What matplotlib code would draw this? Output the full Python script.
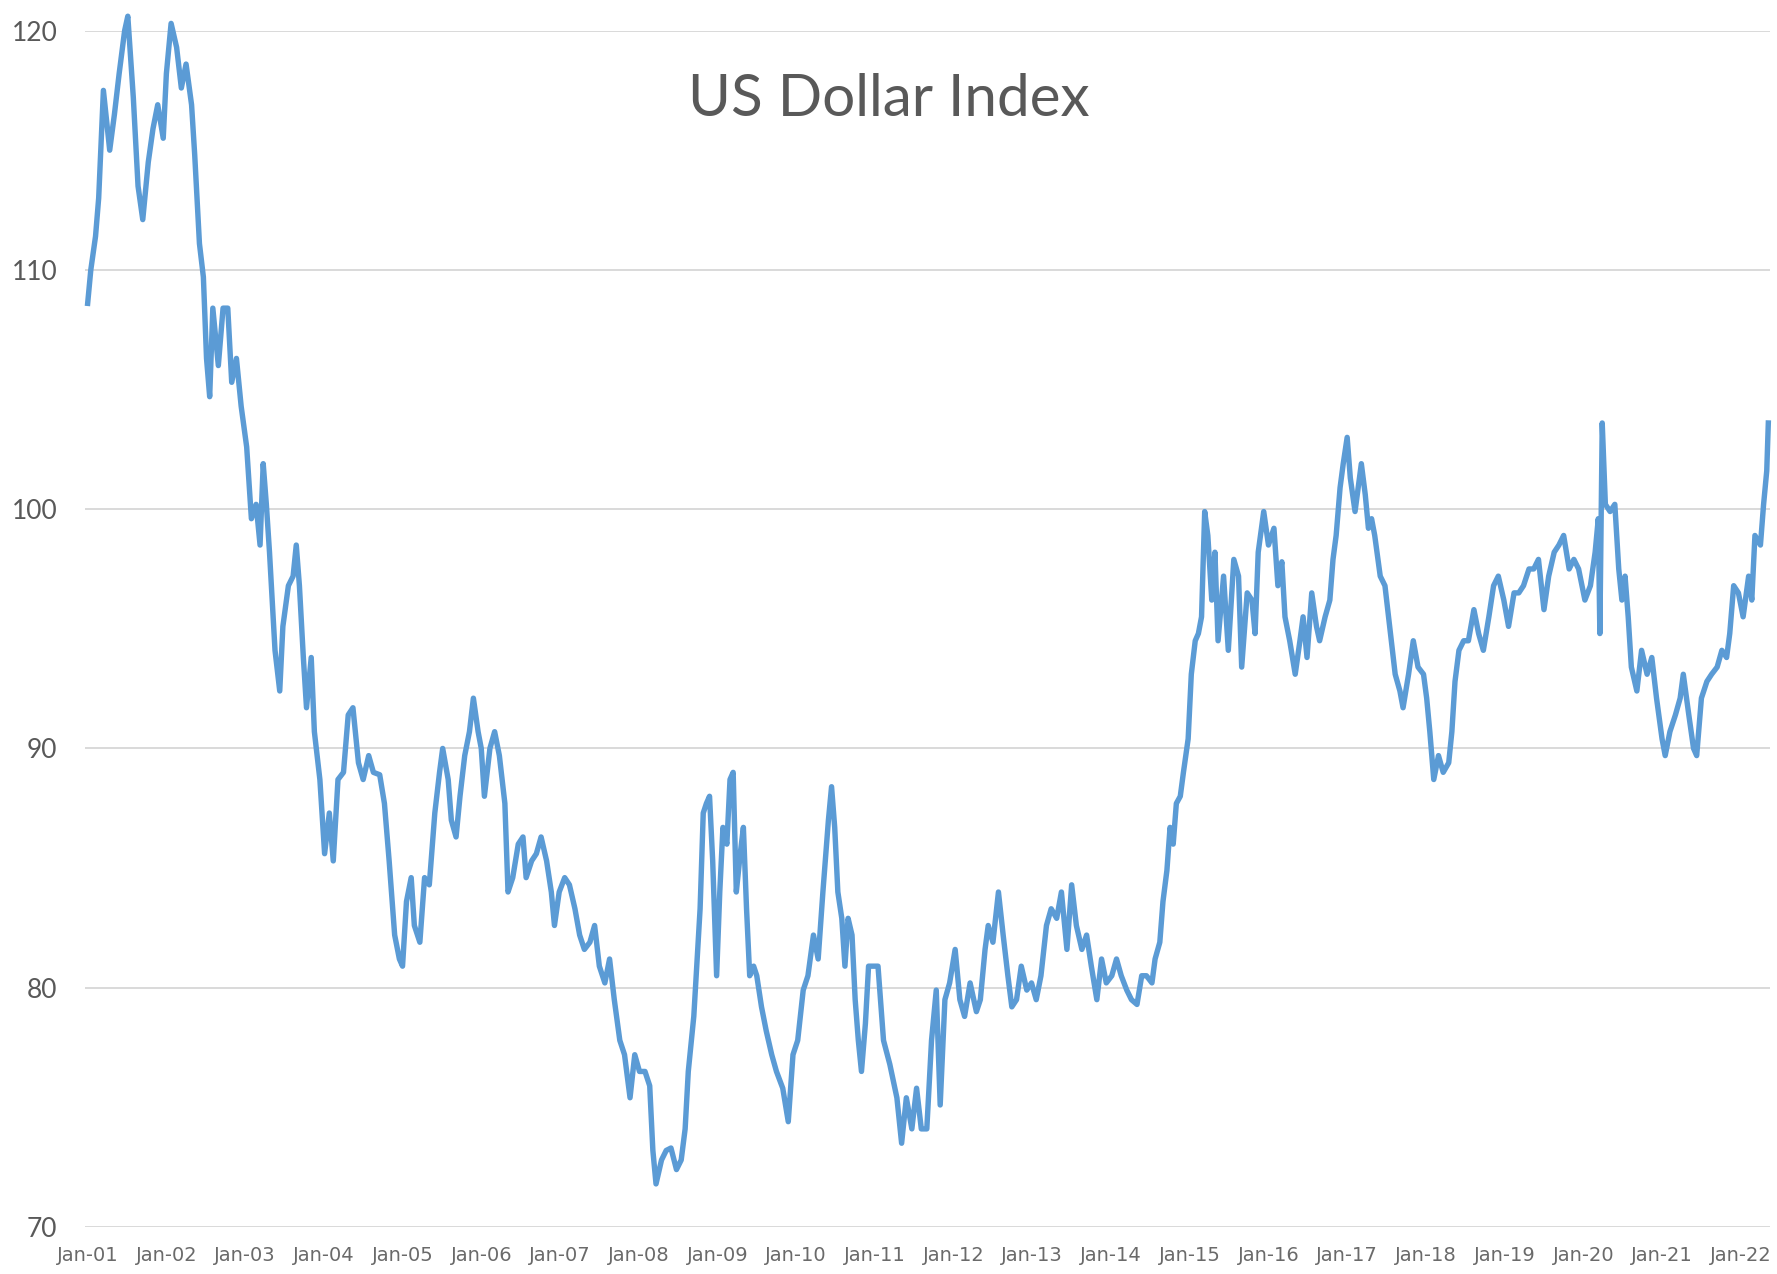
import matplotlib
matplotlib.use("Agg")
import matplotlib.pyplot as plt

# --- Daten (Jahr als Dezimalzahl) ---
years = [
    2001.00, 2001.04, 2001.10, 2001.14, 2001.20, 2001.28, 2001.34, 2001.40, 2001.47, 2001.51,
    2001.58, 2001.64, 2001.70, 2001.77, 2001.83, 2001.89, 2001.96, 2002.00, 2002.06, 2002.13,
    2002.19, 2002.25, 2002.32, 2002.36, 2002.42, 2002.47, 2002.51, 2002.55, 2002.59, 2002.66,
    2002.72, 2002.78, 2002.83, 2002.89, 2002.95, 2003.02, 2003.08, 2003.14, 2003.19, 2003.23,
    2003.27, 2003.31, 2003.38, 2003.44, 2003.48, 2003.55, 2003.61, 2003.65, 2003.69, 2003.74,
    2003.78, 2003.84, 2003.88, 2003.95, 2004.01, 2004.07, 2004.12, 2004.18, 2004.25, 2004.31,
    2004.37, 2004.44, 2004.50, 2004.57, 2004.63, 2004.71, 2004.77, 2004.83, 2004.90, 2004.96,
    2005.00, 2005.05, 2005.11, 2005.15, 2005.22, 2005.28, 2005.34, 2005.41, 2005.47, 2005.51,
    2005.58, 2005.62, 2005.68, 2005.73, 2005.79, 2005.85, 2005.90, 2005.96, 2006.00, 2006.04,
    2006.11, 2006.17, 2006.23, 2006.30, 2006.34, 2006.40, 2006.47, 2006.53, 2006.57, 2006.64,
    2006.70, 2006.76, 2006.83, 2006.89, 2006.93, 2006.99, 2007.06, 2007.12, 2007.19, 2007.25,
    2007.31, 2007.38, 2007.44, 2007.50, 2007.57, 2007.63, 2007.69, 2007.76, 2007.82, 2007.89,
    2007.95, 2008.01, 2008.08, 2008.14, 2008.18, 2008.22, 2008.29, 2008.35, 2008.41, 2008.48,
    2008.54, 2008.59, 2008.63, 2008.70, 2008.73, 2008.78, 2008.82, 2008.86, 2008.90, 2008.94,
    2008.99, 2009.03, 2009.07, 2009.12, 2009.16, 2009.20, 2009.24, 2009.29, 2009.33, 2009.37,
    2009.41, 2009.46, 2009.50, 2009.56, 2009.62, 2009.69, 2009.75, 2009.83, 2009.90, 2009.96,
    2010.02, 2010.09, 2010.15, 2010.22, 2010.28, 2010.34, 2010.41, 2010.45, 2010.49, 2010.53,
    2010.58, 2010.62, 2010.66, 2010.71, 2010.75, 2010.79, 2010.83, 2010.88, 2010.92, 2010.98,
    2011.04, 2011.11, 2011.19, 2011.28, 2011.34, 2011.40, 2011.47, 2011.53, 2011.59, 2011.66,
    2011.72, 2011.78, 2011.83, 2011.89, 2011.95, 2012.02, 2012.08, 2012.14, 2012.21, 2012.29,
    2012.34, 2012.40, 2012.44, 2012.50, 2012.57, 2012.63, 2012.69, 2012.74, 2012.80, 2012.86,
    2012.93, 2012.99, 2013.05, 2013.11, 2013.18, 2013.24, 2013.31, 2013.37, 2013.44, 2013.50,
    2013.56, 2013.63, 2013.69, 2013.75, 2013.82, 2013.88, 2013.94, 2014.01, 2014.07, 2014.13,
    2014.20, 2014.26, 2014.33, 2014.39, 2014.45, 2014.52, 2014.56, 2014.62, 2014.66, 2014.71,
    2014.75, 2014.79, 2014.83, 2014.88, 2014.92, 2014.98, 2015.02, 2015.07, 2015.11, 2015.15,
    2015.19, 2015.23, 2015.28, 2015.32, 2015.36, 2015.43, 2015.49, 2015.56, 2015.62, 2015.66,
    2015.73, 2015.79, 2015.83, 2015.87, 2015.94, 2016.00, 2016.07, 2016.12, 2016.17, 2016.21,
    2016.27, 2016.34, 2016.40, 2016.44, 2016.49, 2016.55, 2016.61, 2016.65, 2016.72, 2016.78,
    2016.82, 2016.86, 2016.91, 2016.95, 2017.00, 2017.04, 2017.10, 2017.14, 2017.18, 2017.23,
    2017.27, 2017.31, 2017.35, 2017.42, 2017.48, 2017.54, 2017.61, 2017.67, 2017.71, 2017.78,
    2017.84, 2017.90, 2017.97, 2018.01, 2018.05, 2018.10, 2018.16, 2018.22, 2018.29, 2018.33,
    2018.37, 2018.42, 2018.48, 2018.54, 2018.61, 2018.67, 2018.73, 2018.80, 2018.86, 2018.92,
    2018.99, 2019.05, 2019.12, 2019.18, 2019.24, 2019.31, 2019.37, 2019.43, 2019.50, 2019.56,
    2019.63, 2019.69, 2019.75, 2019.82, 2019.88, 2019.94, 2020.02, 2020.09, 2020.15, 2020.19,
    2020.21, 2020.24, 2020.28, 2020.34, 2020.40, 2020.45, 2020.49, 2020.53, 2020.57, 2020.61,
    2020.68, 2020.74, 2020.81, 2020.87, 2020.93, 2021.00, 2021.04, 2021.10, 2021.17, 2021.23,
    2021.27, 2021.34, 2021.40, 2021.44, 2021.50, 2021.57, 2021.63, 2021.70, 2021.76, 2021.82,
    2021.86, 2021.91, 2021.97, 2022.03, 2022.10, 2022.14, 2022.18, 2022.25, 2022.29, 2022.33,
    2022.35,
]

dxy = [
    108.6, 110.0, 111.4, 113.0, 117.5, 115.0, 116.5, 118.2, 120.0, 120.6,
    117.2, 113.5, 112.1, 114.5, 115.9, 116.9, 115.5, 118.2, 120.3, 119.3,
    117.6, 118.6, 116.9, 114.8, 111.1, 109.7, 106.3, 104.7, 108.4, 106.0,
    108.4, 108.4, 105.3, 106.3, 104.3, 102.6, 99.6, 100.2, 98.5, 101.9,
    100.2, 98.2, 94.1, 92.4, 95.1, 96.8, 97.2, 98.5, 96.8, 93.8,
    91.7, 93.8, 90.7, 88.7, 85.6, 87.3, 85.3, 88.7, 89.0, 91.4,
    91.7, 89.4, 88.7, 89.7, 89.0, 88.9, 87.7, 85.3, 82.2, 81.2,
    80.9, 83.6, 84.6, 82.6, 81.9, 84.6, 84.3, 87.3, 89.0, 90.0,
    88.7, 87.0, 86.3, 88.0, 89.7, 90.7, 92.1, 90.7, 90.0, 88.0,
    90.0, 90.7, 89.7, 87.7, 84.0, 84.6, 86.0, 86.3, 84.6, 85.3,
    85.6, 86.3, 85.3, 84.0, 82.6, 84.0, 84.6, 84.3, 83.3, 82.2,
    81.6, 81.9, 82.6, 80.9, 80.2, 81.2, 79.5, 77.8, 77.2, 75.4,
    77.2, 76.5, 76.5, 75.9, 73.2, 71.8, 72.8, 73.2, 73.3, 72.4,
    72.8, 74.1, 76.5, 78.8, 80.5, 83.3, 87.3, 87.7, 88.0, 85.3,
    80.5, 84.0, 86.7, 86.0, 88.7, 89.0, 84.0, 85.6, 86.7, 83.3,
    80.5, 80.9, 80.5, 79.2, 78.2, 77.2, 76.5, 75.8, 74.4, 77.2,
    77.8, 79.9, 80.5, 82.2, 81.2, 84.0, 87.0, 88.4, 86.7, 84.0,
    82.9, 80.9, 82.9, 82.2, 79.5, 77.8, 76.5, 78.5, 80.9, 80.9,
    80.9, 77.8, 76.8, 75.4, 73.5, 75.4, 74.1, 75.8, 74.1, 74.1,
    77.8, 79.9, 75.1, 79.5, 80.2, 81.6, 79.5, 78.8, 80.2, 79.0,
    79.5, 81.6, 82.6, 81.9, 84.0, 82.2, 80.5, 79.2, 79.5, 80.9,
    79.9, 80.2, 79.5, 80.5, 82.6, 83.3, 82.9, 84.0, 81.6, 84.3,
    82.6, 81.6, 82.2, 80.9, 79.5, 81.2, 80.2, 80.5, 81.2, 80.5,
    79.9, 79.5, 79.3, 80.5, 80.5, 80.2, 81.2, 81.9, 83.6, 84.9,
    86.7, 86.0, 87.7, 88.0, 89.0, 90.4, 93.1, 94.5, 94.8, 95.5,
    99.9, 98.9, 96.2, 98.2, 94.5, 97.2, 94.1, 97.9, 97.2, 93.4,
    96.5, 96.2, 94.8, 98.2, 99.9, 98.5, 99.2, 96.8, 97.8, 95.5,
    94.5, 93.1, 94.5, 95.5, 93.8, 96.5, 95.1, 94.5, 95.5, 96.2,
    97.9, 98.9, 100.9, 101.9, 103.0, 101.3, 99.9, 100.9, 101.9, 100.6,
    99.2, 99.6, 98.9, 97.2, 96.8, 95.1, 93.1, 92.4, 91.7, 93.1,
    94.5, 93.4, 93.1, 92.1, 90.7, 88.7, 89.7, 89.0, 89.4, 90.7,
    92.8, 94.1, 94.5, 94.5, 95.8, 94.8, 94.1, 95.5, 96.8, 97.2,
    96.2, 95.1, 96.5, 96.5, 96.8, 97.5, 97.5, 97.9, 95.8, 97.2,
    98.2, 98.5, 98.9, 97.5, 97.9, 97.5, 96.2, 96.8, 98.2, 99.6,
    94.8, 103.6, 100.2, 99.9, 100.2, 97.5, 96.2, 97.2, 95.5, 93.4,
    92.4, 94.1, 93.1, 93.8, 92.1, 90.4, 89.7, 90.7, 91.4, 92.1,
    93.1, 91.4, 90.0, 89.7, 92.1, 92.8, 93.1, 93.4, 94.1, 93.8,
    94.8, 96.8, 96.5, 95.5, 97.2, 96.2, 98.9, 98.5, 100.2, 101.6,
    103.6,
]

tick_years = list(range(2001, 2023))
tick_labels = ["Jan-%02d" % (y % 100) for y in tick_years]
y_ticks = [70, 80, 90, 100, 110, 120]

title = "US Dollar Index"

# --- Diagramm ---
fig = plt.figure(figsize=(17.77, 12.74), dpi=100)
ax = fig.add_axes([0.048, 0.0369, 0.948, 0.9391])

ax.plot(years, dxy, color="#5B9BD5", linewidth=3.9, solid_joinstyle="round", clip_on=False, zorder=3)

ax.set_xlim(2000.97, 2022.37)
ax.set_ylim(70, 120)
ax.set_yticks(y_ticks)
ax.set_xticks(tick_years)
ax.set_xticklabels(tick_labels)

ax.grid(axis="y", color="#d9d9d9", linewidth=1.4)
ax.set_axisbelow(True)
for s in ax.spines.values():
    s.set_visible(False)

ax.tick_params(axis="both", length=0)
ax.tick_params(axis="y", labelsize=19, labelcolor="#595959", pad=20)
ax.tick_params(axis="x", labelsize=14, labelcolor="#6a6a6a", pad=14)
for lbl in ax.get_xticklabels():
    lbl.set_fontfamily(["Liberation Sans Narrow", "DejaVu Sans"])
for lbl in ax.get_yticklabels():
    lbl.set_fontfamily(["Lato", "DejaVu Sans"])

fig.text(0.5, 1 - 99 / 1274, title, ha="center", va="center",
         fontsize=42, color="#595959", family=["Lato", "DejaVu Sans"])

fig.savefig("out.png", dpi=100)
plt.close(fig)
